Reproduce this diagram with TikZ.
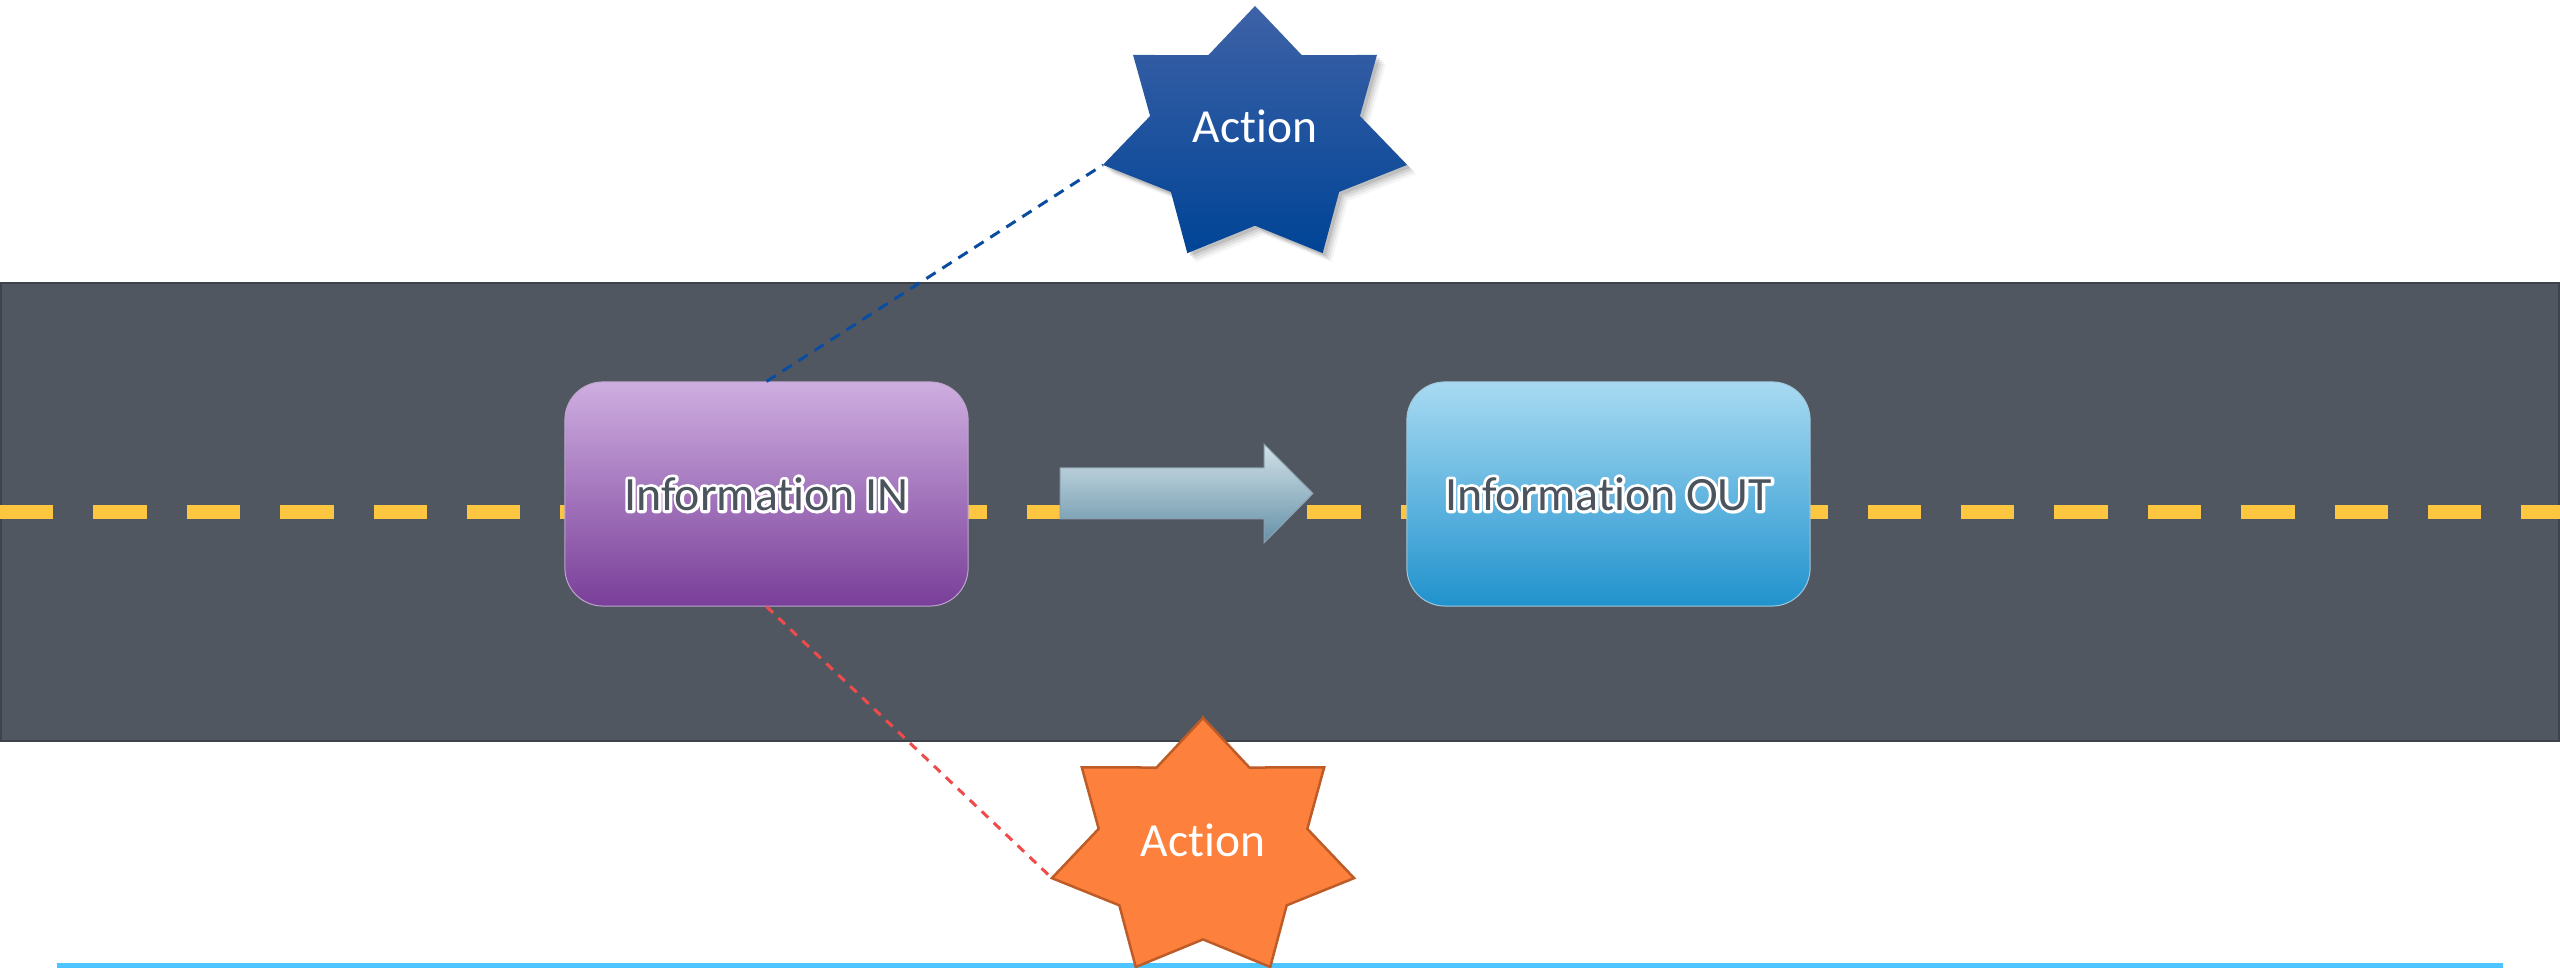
\documentclass[tikz,border=0pt]{standalone}
\usepackage{fontspec}
\setmainfont{Carlito}[Ligatures=NoCommon]
\usetikzlibrary{calc}
\definecolor{road}{RGB}{80,87,97}
\definecolor{roadedge}{RGB}{62,67,74}
\definecolor{lane}{RGB}{253,198,64}
\definecolor{lineblue}{RGB}{76,196,255}
\definecolor{intop}{RGB}{206,174,224}
\definecolor{inmid}{RGB}{180,138,205}
\definecolor{inbot}{RGB}{121,62,153}
\definecolor{outtop}{RGB}{168,218,242}
\definecolor{outmid}{RGB}{125,198,234}
\definecolor{outbot}{RGB}{32,146,205}
\definecolor{bstop}{RGB}{62,98,167}
\definecolor{bsmid}{RGB}{8,78,160}
\definecolor{bsbot}{RGB}{0,68,150}
\definecolor{ostar}{RGB}{254,128,61}
\definecolor{ostaredge}{RGB}{190,92,40}
\definecolor{artop}{RGB}{210,225,232}
\definecolor{armid}{RGB}{178,201,211}
\definecolor{arbot}{RGB}{100,145,168}
\definecolor{aredge}{RGB}{138,158,173}
\definecolor{infotext}{RGB}{75,83,93}
\definecolor{bluedash}{RGB}{10,77,160}
\definecolor{reddash}{RGB}{240,75,75}
\newcommand\outlined[1]{\leavevmode\rlap{\special{pdf:literal direct 1 Tr 1.7 w 1 j 1 1 1 RG}#1\special{pdf:literal direct 0 Tr}}#1}
\tikzset{
  infobox/.style={rounded corners=0.38cm, minimum width=4.03cm, minimum height=2.24cm,
    inner sep=0pt, text=infotext, font=\fontsize{13.6pt}{16pt}\selectfont},
  actiontext/.style={text=white, inner sep=0pt, font=\fontsize{13.5pt}{16pt}\selectfont},
  connblue/.style={draw=bluedash, line width=0.03cm, dash pattern=on 0.11cm off 0.08cm},
  connred/.style={draw=reddash, line width=0.03cm, dash pattern=on 0.09cm off 0.075cm},
}
\begin{document}
\begin{tikzpicture}[x=0.01cm,y=-0.01cm]
\useasboundingbox (0,0) rectangle (2560,968);
\fill[white] (0,0) rectangle (2560,968);
% road
\fill[road, draw=roadedge, line width=0.02cm] (1,283) rectangle (2559,741);
\draw[lane, line width=0.14cm, dash pattern=on 0.5333cm off 0.4cm] (0,512) -- (2560,512);
% base line
\fill[lineblue] (57,963) rectangle (2503,968);
% info boxes
\node[infobox, top color=intop, middle color=inmid, bottom color=inbot, draw=intop!80!gray, line width=0.01cm] (in) at (766.5,494) {\outlined{Information IN}};
\node[infobox, top color=outtop, middle color=outmid, bottom color=outbot, draw=outtop!80!gray, line width=0.01cm] (out) at (1608.5,494) {\outlined{Information OUT}};
% flow arrow
\shade[top color=artop, middle color=armid, bottom color=arbot, draw=aredge, line width=0.01cm]
  (1060,468) -- (1264,468) -- (1264,444) -- (1313,493.5) -- (1264,543) -- (1264,519) -- (1060,519) -- cycle;
% star coordinates
\coordinate (act1-w) at ($(1255,136)+(167.14:156 and 130)$);
\coordinate (act2-w) at ($(1203,849)+(167.14:155 and 131)$);
% connectors
\draw[connblue] (in.north) -- (act1-w);
\draw[connred] (in.south) -- (act2-w);
% blue star shadow
\foreach \d/\o in {3/0.10,5/0.08,7/0.06,9/0.04}{
\fill[black, opacity=\o, shift={($(1255,136)+(\d,\d)$)}] (270:156 and 130)
  \foreach \k in {1,...,7}{ -- ({244.2857+\k*51.4286}:107.6 and 89.7) -- ({270+\k*51.4286}:156 and 130)} -- cycle;
}
% blue star
\shade[top color=bstop, middle color=bsmid, bottom color=bsbot, shift={(1255,136)}] (270:156 and 130)
  \foreach \k in {1,...,7}{ -- ({244.2857+\k*51.4286}:107.6 and 89.7) -- ({270+\k*51.4286}:156 and 130)} -- cycle;
\node[actiontext] (act1) at (1255,126) {Action};
% orange star
\filldraw[fill=ostar, draw=ostaredge, line width=0.025cm, shift={(1203,849)}] (270:155 and 131)
  \foreach \k in {1,...,7}{ -- ({244.2857+\k*51.4286}:107 and 90.4) -- ({270+\k*51.4286}:155 and 131)} -- cycle;
\node[actiontext] (act2) at (1203,840) {Action};
\end{tikzpicture}
\end{document}
